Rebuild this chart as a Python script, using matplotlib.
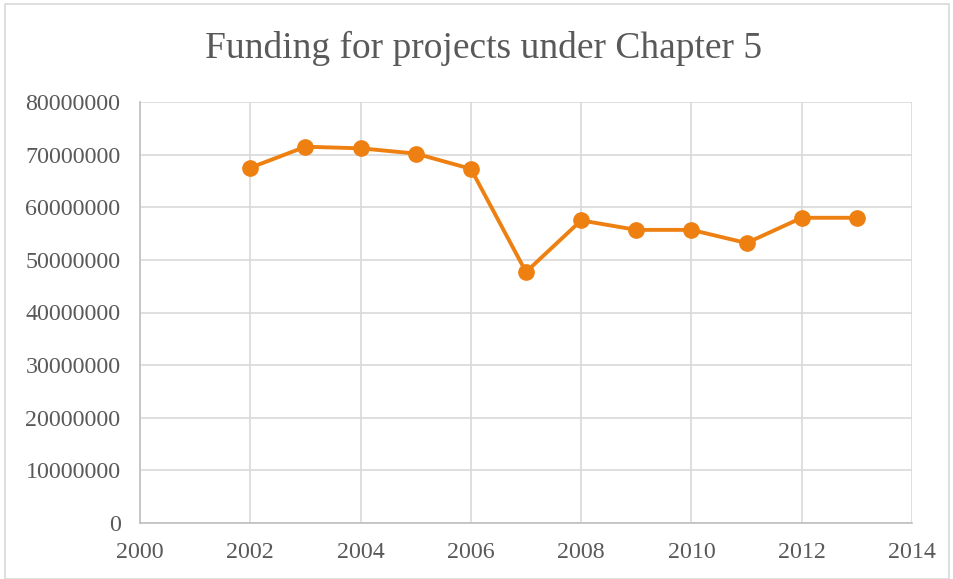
import matplotlib.pyplot as plt
from matplotlib.patches import Rectangle

years = [2002, 2003, 2004, 2005, 2006, 2007, 2008, 2009, 2010, 2011, 2012, 2013]
funding = [67500000, 71500000, 71200000, 70200000, 67300000, 47700000,
           57500000, 55700000, 55700000, 53200000, 58000000, 58000000]

plt.rcParams['font.family'] = ['Liberation Serif', 'DejaVu Serif']

fig = plt.figure(figsize=(9.54, 5.79), dpi=100)
ax = fig.add_axes([140 / 954, 1 - 523 / 579, 772 / 954, 421 / 579])

ax.plot(years, funding, color='#EE8012', linewidth=2.8, marker='o', markersize=11)

ax.set_xlim(2000, 2014)
ax.set_ylim(0, 80000000)
ax.set_xticks(range(2000, 2015, 2))
ax.set_yticks(range(0, 80000001, 10000000))
ax.set_yticklabels([str(v) for v in range(0, 80000001, 10000000)])
ax.grid(True, color='#D9D9D9', linewidth=1.2)
ax.set_axisbelow(True)
for side in ['top', 'right']:
    ax.spines[side].set_visible(False)
for side in ['left', 'bottom']:
    ax.spines[side].set_color('#BFBFBF')
    ax.spines[side].set_linewidth(1.2)
ax.tick_params(length=0, labelsize=17.3, colors='#595959')
ax.tick_params(axis='y', pad=14)
ax.tick_params(axis='x', pad=14)

fig.text(484 / 954, 1 - 48 / 579, 'Funding for projects under Chapter 5', ha='center', va='center',
         fontsize=27, color='#595959')

fig.patches.append(Rectangle((5 / 954, 0), 944 / 954, 1 - 4 / 579, transform=fig.transFigure,
                             fill=False, edgecolor='#D9D9D9', linewidth=1.2))

fig.savefig('out.png', dpi=100)
